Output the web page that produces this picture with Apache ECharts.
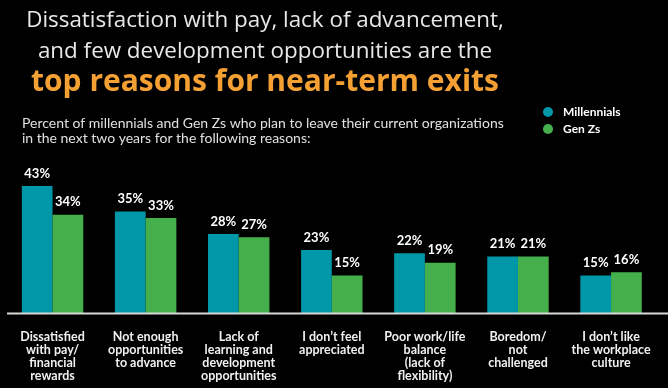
<!DOCTYPE html>
<html>
<head>
<meta charset="utf-8">
<script src="https://cdn.jsdelivr.net/npm/echarts@6/dist/echarts.min.js"></script>
<style>
html,body{margin:0;padding:0;background:#000;}
#c{width:668px;height:388px;}
</style>
</head>
<body>
<div id="c"></div>
<script>
const categories = [
  "Dissatisfied\nwith pay/\nfinancial\nrewards",
  "Not enough\nopportunities\nto advance",
  "Lack of\nlearning and\ndevelopment\nopportunities",
  "I don’t feel\nappreciated",
  "Poor work/life\nbalance\n(lack of\nflexibility)",
  "Boredom/\nnot\nchallenged",
  "I don’t like\nthe workplace\nculture"
];
const millennials = [43, 35, 28, 23, 22, 21, 15];
const genZs = [34, 33, 27, 15, 19, 21, 16];
const seriesNames = ["Millennials", "Gen Zs"];
const titleLines = [
  "Dissatisfaction with pay, lack of advancement,",
  "and few development opportunities are the",
  "top reasons for near-term exits"
];
const subtitleText = "Percent of millennials and Gen Zs who plan to leave their current organizations\nin the next two years for the following reasons:";

const chart = echarts.init(document.getElementById('c'), null, {renderer: 'canvas'});
const labelStyle = {
  show: true, position: 'top', distance: 6,
  formatter: '{c}%', color: '#fff', fontFamily: 'Lato', fontWeight: 'bold', fontSize: 13
};
chart.setOption({
  backgroundColor: '#000',
  animation: false,
  title: [{
    left: 260, top: 0, textAlign: 'center',
    text: '{a|' + titleLines[0] + '}\n{a|' + titleLines[1] + '}\n{b|' + titleLines[2] + '}',
    textStyle: {
      fontWeight: 'normal',
      rich: {
        a: {fontFamily: 'Open Sans', fontSize: 22.4, fontWeight: 'normal', color: '#e8e8e8', lineHeight: 31},
        b: {fontFamily: 'Open Sans', fontSize: 30, fontWeight: 'bold', color: '#f5a033', lineHeight: 31}
      }
    }
  }, {
    left: 17, top: 111,
    text: subtitleText,
    textStyle: {fontFamily: 'Lato', fontSize: 14, fontWeight: 'normal', color: '#e0e0e0', lineHeight: 15}
  }],
  legend: {
    orient: 'vertical', left: 538, top: 101,
    icon: 'circle', itemWidth: 10, itemHeight: 10, itemGap: 5,
    data: seriesNames,
    textStyle: {color: '#fff', fontFamily: 'Lato', fontWeight: 'bold', fontSize: 12, padding: [0,0,0,5]}
  },
  grid: {left: 6, right: 10.4, top: 163.6, height: 149.4},
  xAxis: {
    type: 'category', data: categories,
    axisLine: {show: false}, axisTick: {show: false},
    axisLabel: {
      interval: 0, margin: 17, color: '#f0f0f0',
      fontFamily: 'Lato', fontWeight: 'bold', fontSize: 12.5, lineHeight: 13
    }
  },
  yAxis: {type: 'value', min: 3.3, max: 50, show: false, splitLine: {show: false}},
  series: [{
    name: seriesNames[0], type: 'bar', data: millennials,
    barWidth: '33%', barGap: '0%',
    itemStyle: {color: '#0097a9'}, label: labelStyle
  }, {
    name: seriesNames[1], type: 'bar', data: genZs,
    barWidth: '33%',
    itemStyle: {color: '#45b04b'}, label: labelStyle
  }],
  graphic: [{
    type: 'line', shape: {x1: 7, y1: 313.5, x2: 668, y2: 313.5},
    style: {stroke: '#d8d8d8', lineWidth: 2}, z: 10
  }]
});
</script>
</body>
</html>
